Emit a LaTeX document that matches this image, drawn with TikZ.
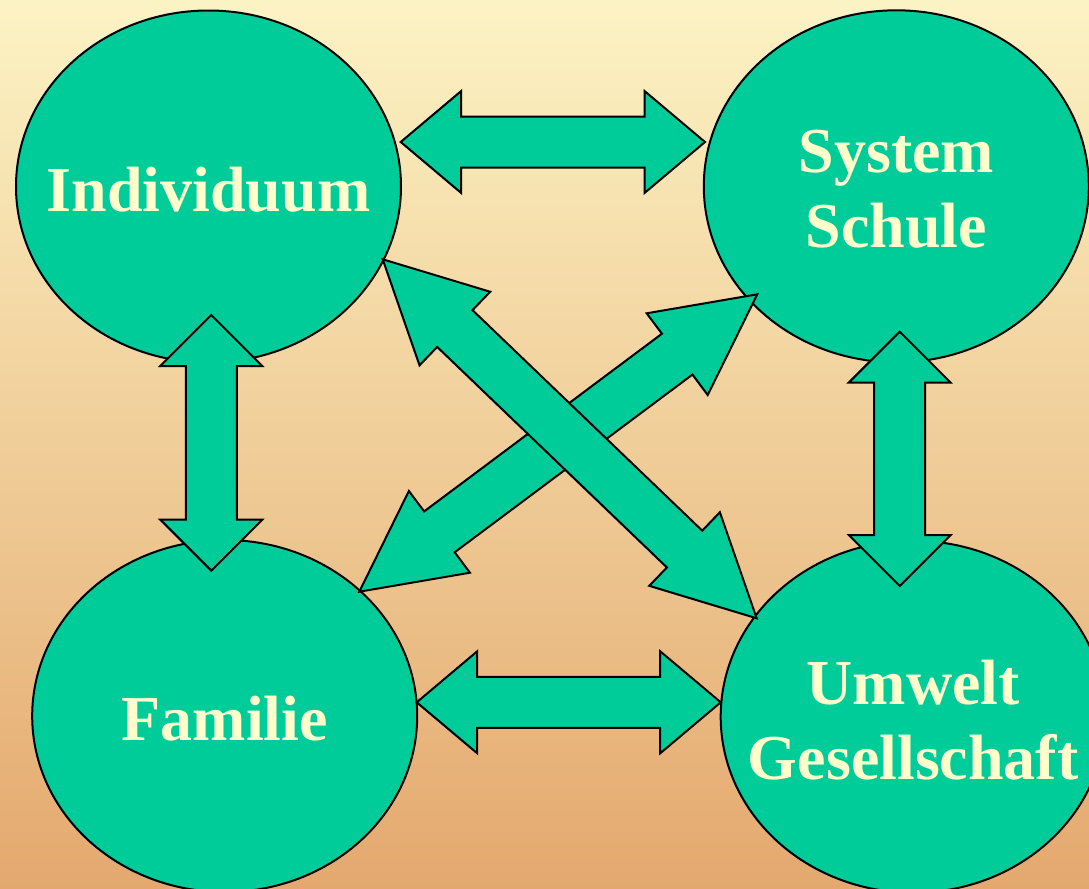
\documentclass[tikz,border=0pt]{standalone}
\usepackage{fontspec}
\setmainfont{Liberation Serif}
\usepackage{tikz}
\usetikzlibrary{shapes,calc,positioning}

\definecolor{bgtop}{RGB}{252,243,196}
\definecolor{bgbottom}{RGB}{228,168,110}
\definecolor{blobgreen}{RGB}{0,204,153}
\definecolor{labelyellow}{RGB}{255,255,204}

\newcommand{\headw}{25.5pt}
\newcommand{\shaftw}{12.75pt}
% double block arrow: #1 and #2 are the tips, #3 head length, #4 name
\newcommand{\blockarrow}[4]{%
  \coordinate (#4-p) at ($(#1)!#3!(#2)$);
  \coordinate (#4-q) at ($(#2)!#3!(#1)$);
  \draw[biarrow] (#1)
    -- ($(#4-p)!\headw!90:(#2)$) -- ($(#4-p)!\shaftw!90:(#2)$)
    -- ($(#4-q)!\shaftw!-90:(#1)$) -- ($(#4-q)!\headw!-90:(#1)$)
    -- (#2)
    -- ($(#4-q)!\headw!90:(#1)$) -- ($(#4-q)!\shaftw!90:(#1)$)
    -- ($(#4-p)!\shaftw!-90:(#2)$) -- ($(#4-p)!\headw!-90:(#2)$)
    -- cycle;}

\begin{document}
\begin{tikzpicture}[x=0.5pt, y=-0.5pt,
    blob/.style={shape=ellipse, draw=black, line width=1pt, fill=blobgreen,
                 minimum width=192.5pt, minimum height=176pt, inner sep=0pt},
    blobtext/.style={text=labelyellow, font=\bfseries\fontsize{32}{37.5}\selectfont,
                 align=center, inner sep=0pt, yshift=-1.5pt},
    biarrow/.style={draw=black, line width=1pt, fill=blobgreen, line join=miter}]
\useasboundingbox (0,0) rectangle (1089,889);
\fill[top color=bgtop, bottom color=bgbottom] (0,0) rectangle (1089,889);

% the four fields
\node[blob] (ind) at (208.5,186.5) {};
\node[blob] (sys) at (896.3,186.3) {};
\node[blob] (fam) at (224.7,716)   {};
\node[blob] (umw) at (913.2,716.7) {};
\node[blobtext] (ind-text) at (ind.center) {Individuum};
\node[blobtext] (sys-text) at (sys.center) {System\\Schule};
\node[blobtext] (fam-text) at (fam.center) {Familie};
\node[blobtext] (umw-text) at (umw.center) {Umwelt\\Gesellschaft};

% arrow tips
\coordinate (ind-right)  at (400.7,142);
\coordinate (sys-left)   at (705,142);
\coordinate (fam-right)  at (416.7,702.3);
\coordinate (umw-left)   at (720.7,702.3);
\coordinate (ind-bottom) at (211.3,315);
\coordinate (fam-top)    at (211.3,570.7);
\coordinate (sys-bottom) at (899.7,331.7);
\coordinate (umw-top)    at (899.7,586);
\coordinate (ind-se)     at (382.7,259.3);
\coordinate (umw-nw)     at (756.7,618.3);
\coordinate (fam-ne)     at (359.3,591.7);
\coordinate (sys-sw)     at (757.3,294.3);

\blockarrow{ind-right}{sys-left}{30.25pt}{indsys}
\blockarrow{fam-right}{umw-left}{30.25pt}{famumw}
\blockarrow{ind-bottom}{fam-top}{25.5pt}{indfam}
\blockarrow{sys-bottom}{umw-top}{25.5pt}{sysumw}
\blockarrow{fam-ne}{sys-sw}{50pt}{famsys}
\blockarrow{ind-se}{umw-nw}{50pt}{indumw}
\end{tikzpicture}
\end{document}
